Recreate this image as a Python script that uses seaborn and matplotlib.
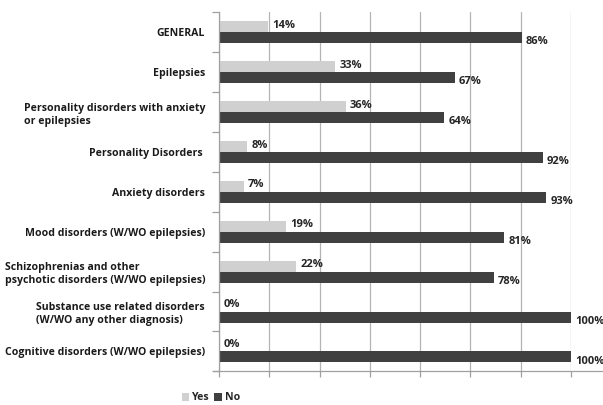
import matplotlib
matplotlib.use("Agg")
import matplotlib.pyplot as plt
import numpy as np
import seaborn as sns
import pandas as pd

# ========================================================================
# DATA
# ========================================================================
categories = [
    "GENERAL",
    "Epilepsies",
    "Personality disorders with anxiety\nor epilepsies",
    "Personality Disorders ",
    "Anxiety disorders",
    "Mood disorders (W/WO epilepsies)",
    "Schizophrenias and other\npsychotic disorders (W/WO epilepsies)",
    "Substance use related disorders\n(W/WO any other diagnosis)",
    "Cognitive disorders (W/WO epilepsies)",
]
yes_pct = [14, 33, 36, 8, 7, 19, 22, 0, 0]
no_pct = [86, 67, 64, 92, 93, 81, 78, 100, 100]
series = ["Yes", "No"]
colors = {"Yes": "#d0d0d0", "No": "#404040"}

# LONG FORMAT FOR SEABORN
df = pd.DataFrame({"Category": categories, "Yes": yes_pct, "No": no_pct})
df_long = df.melt(id_vars="Category", var_name="Answer", value_name="Percent")

# ========================================================================
# FIGURE
# ========================================================================
sns.set_style("white")
plt.rcParams["font.family"] = ["Open Sans", "DejaVu Sans"]
plt.rcParams["font.weight"] = "bold"
FS = 7.6

fig = plt.figure(figsize=(6.03, 4.05), dpi=100)
ax = fig.add_axes([0.3632, 0.0830, 0.5837, 0.8866])

sns.barplot(data=df_long, y="Category", x="Percent", hue="Answer",
            hue_order=series, palette=colors, orient="h", width=0.55,
            linewidth=0, saturation=1, ax=ax)

# VALUE LABELS
for container, dy in zip(ax.containers, [1, -3]):
    anns = ax.bar_label(container, labels=[f"{v:.0f}%" for v in container.datavalues],
                        padding=3, fontsize=8, fontweight="bold", color="#262626")
    for a in anns:
        a.xyann = (3, dy)

# AXES STYLE
ax.set_xlim(0, 100)
ax.set_xticks(np.linspace(0, 100, 8))
ax.set_xticklabels([])
ax.xaxis.grid(True, color="#b4b4b4", linewidth=0.9)
ax.set_axisbelow(True)
ax.set_xlabel("")
ax.set_ylabel("")

ax.set_yticks(range(len(categories)))
ax.set_yticklabels(categories, fontsize=FS, fontweight="bold", color="#1a1a1a")
for lab in ax.get_yticklabels():
    lab.set_multialignment("left")
    lab.set_linespacing(1.25)
ax.set_yticks(np.arange(-0.5, len(categories), 1), minor=True)
ax.tick_params(axis="y", which="major", length=0, pad=10)
ax.tick_params(axis="y", which="minor", length=5, color="#a0a0a0", width=0.9, left=True)
ax.tick_params(axis="x", length=4, color="#a0a0a0", width=0.9, bottom=True, direction="out")

for side in ["top", "right", "bottom"]:
    ax.spines[side].set_visible(False)
ax.spines["left"].set_color("#a0a0a0")
ax.spines["left"].set_linewidth(0.9)
# BOTTOM AXIS LINE (EXTENDS PAST THE PLOT AREA LIKE THE ORIGINAL)
ax.axhline(len(categories) - 0.5, xmin=-0.017, xmax=1.09, color="#a0a0a0",
           linewidth=0.9, clip_on=False)

# LEGEND
handles, labels = ax.get_legend_handles_labels()
ax.get_legend().remove()
fig.legend(handles, labels, loc="center", bbox_to_anchor=(211 / 603, 1 - 398 / 405),
           ncol=2, frameon=False, fontsize=FS, handlelength=0.7, handleheight=0.7,
           handletextpad=0.3, columnspacing=0.4, borderaxespad=0, borderpad=0)

fig.savefig("out.png", dpi=100)
